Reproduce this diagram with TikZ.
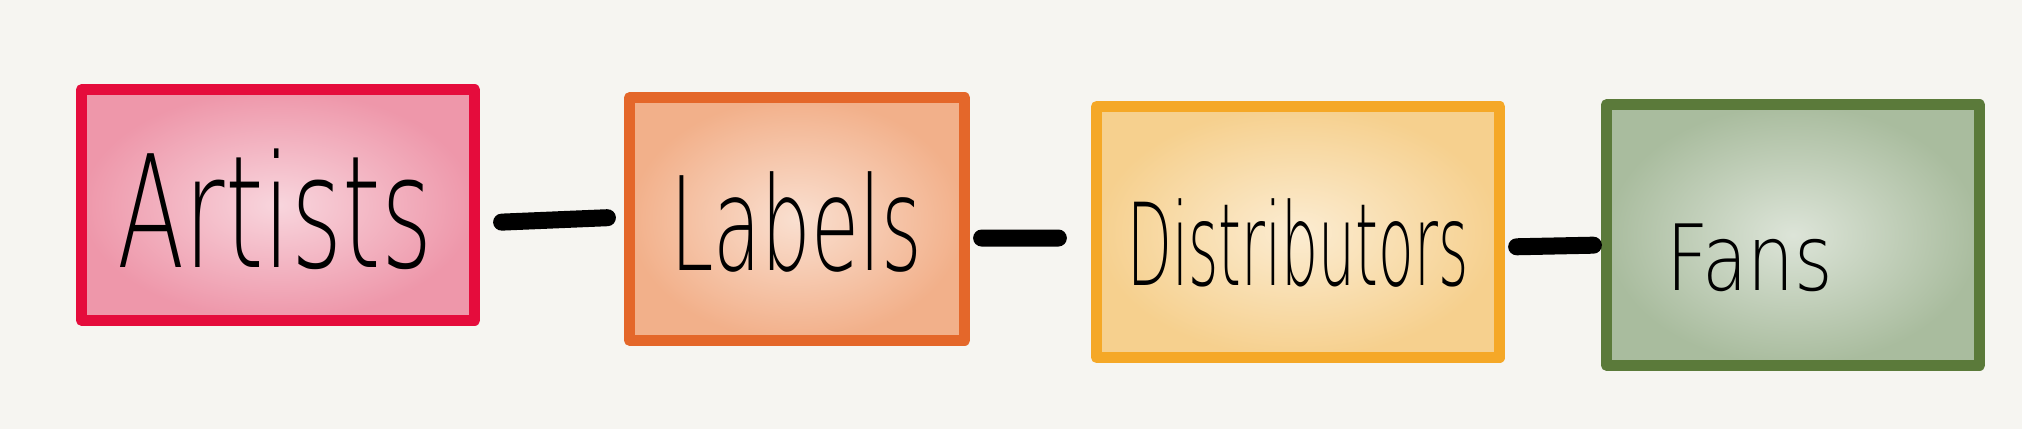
\documentclass[tikz,border=0pt]{standalone}
\usepackage{fontspec}
\setmainfont{DejaVu Sans}
\newfontfamily\handfont{DejaVu Sans ExtraLight}
\usepackage{xcolor}
\usetikzlibrary{
    positioning,
    calc
}
\definecolor{paper}{HTML}{F6F5F1}
\definecolor{artred}{HTML}{E50C3C}
\definecolor{artwash}{HTML}{EE97AA}
\definecolor{labelorange}{HTML}{E4672A}
\definecolor{labelwash}{HTML}{F2B08A}
\definecolor{distyellow}{HTML}{F5A827}
\definecolor{distwash}{HTML}{F6D08E}
\definecolor{fangreen}{HTML}{5B7A3A}
\definecolor{fanwash}{HTML}{A9BC9E}
\tikzstyle{card} = [
    rectangle,
    line width=0.11cm,
    line join=round,
    shading=radial
]
\tikzstyle{link} = [
    black,
    line width=0.17cm,
    line cap=round
]
\tikzstyle{word} = [
    anchor=base,
    inner sep=0pt
]
\newcommand{\handword}[3]{\scalebox{#2}[1]{\handfont\fontsize{#1}{#1}\selectfont #3}}

\begin{document}
\begin{tikzpicture}[
        x=0.01cm, y=-0.01cm
    ]
    \useasboundingbox (0,0) rectangle (2022,429);
    \fill[paper] (0,0) rectangle (2022,429);

    % boxes
    \node[card, draw=artred, inner color=artwash!40!white, outer color=artwash,
        minimum width=3.93cm, minimum height=2.30cm] (artists) at (278,205) {};
    \node[card, draw=labelorange, inner color=labelwash!40!white, outer color=labelwash,
        minimum width=3.35cm, minimum height=2.42cm] (labels) at (797,219) {};
    \node[card, draw=distyellow, inner color=distwash!40!white, outer color=distwash,
        minimum width=4.03cm, minimum height=2.51cm] (distributors) at (1298,232) {};
    \node[card, draw=fangreen, inner color=fanwash!40!white, outer color=fanwash,
        minimum width=3.73cm, minimum height=2.60cm] (fans) at (1793,235) {};

    % words
    \node[word] (artistsword) at (275,267) {\handword{44.4}{0.63}{Artists}};
    \node[word] (labelsword) at (796,270) {\handword{37}{0.60}{Labels}};
    \node[word] (distributorsword) at (1298,285) {\handword{32.5}{0.51}{Distributors}};
    \node[word] (fansword) at (1750,290) {\handword{26}{0.81}{Fans}};

    % links
    \draw[link, shorten <=0.215cm, shorten >=0.165cm]
        ([yshift=-0.18cm]artists.east) -- ([yshift=0.02cm]labels.west);
    \draw[link, shorten <=0.115cm, shorten >=0.325cm]
        ([yshift=-0.19cm]labels.east) -- ([yshift=-0.06cm]distributors.west);
    \draw[link, shorten <=0.115cm, shorten >=0.075cm]
        ([yshift=-0.15cm]distributors.east) -- ([yshift=-0.10cm]fans.west);
\end{tikzpicture}
\end{document}
